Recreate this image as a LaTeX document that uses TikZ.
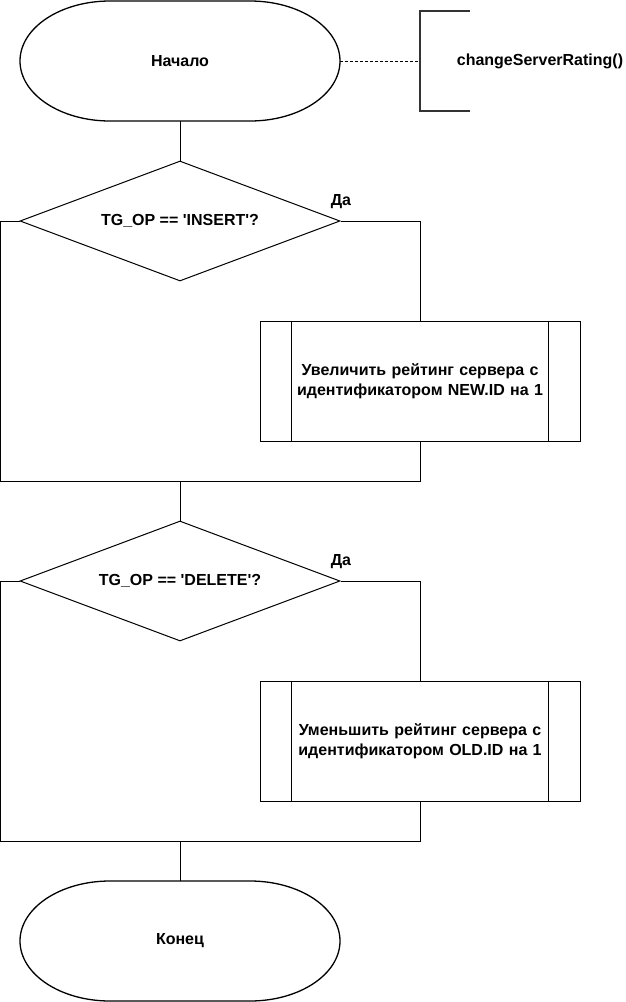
\documentclass[tikz,border=0pt]{standalone}
\usepackage{fontspec}
\setmainfont{Liberation Sans}
\usetikzlibrary{shapes.geometric}
\begin{document}
\begin{tikzpicture}[x=1pt,y=-1pt,
  every node/.style={font=\fontsize{16}{20}\selectfont\bfseries, inner sep=0pt},
  line/.style={draw=black, line width=1pt},
  termline/.style={draw=black, line width=1.3pt},
  term/.style={minimum width=320pt, minimum height=120pt},
  decision/.style={diamond, aspect=2.667, draw=black, line width=1pt, minimum width=320pt, minimum height=120pt, align=center},
  procbox/.style={rectangle, draw=black, line width=1pt, minimum width=320pt, minimum height=120pt, align=center},
  lbl/.style={font=\fontsize{16}{20}\selectfont\bfseries}
]
\useasboundingbox (0,0) rectangle (625,1002);
\fill[white] (0,0) rectangle (625,1002);

% start terminal
\draw[termline] (110,1) -- (250,1) arc[start angle=-90, end angle=90, x radius=90, y radius=60] -- (110,121) arc[start angle=90, end angle=270, x radius=90, y radius=60] -- cycle;
\node[term] (start) at (180,61) {Начало};

% annotation
\node (ann) at (540,61) {changeServerRating()};
\coordinate (br) at (420,61);
\draw[draw=black!80, line width=1.6pt] (470,11) -- (420,11) -- (420,111) -- (470,111);
\draw[line, dash pattern=on 3pt off 2pt] (start.east) -- (br);

% decision 1
\node[decision] (d1) at (180,221) {TG\_OP == \textquotesingle INSERT\textquotesingle?};
\draw[line] (start.south) -- (d1.north);
\node[lbl, anchor=center] (yes1) at (341,202) {Да};

% process 1
\node[procbox, text width=250pt] (p1) at (420,381) {Увеличить рейтинг сервера с\\идентификатором NEW.ID на 1};
\draw[line] ([xshift=32pt]p1.north west) -- ([xshift=32pt]p1.south west);
\draw[line] ([xshift=-32pt]p1.north east) -- ([xshift=-32pt]p1.south east);

\coordinate (m1) at (180,481);
\draw[line] (d1.east) -| (p1.north);
\draw[line] (p1.south) |- (m1);
\draw[line] (d1.west) -- (0.5,221) |- (m1);

% decision 2
\node[decision] (d2) at (180,581) {TG\_OP == \textquotesingle DELETE\textquotesingle?};
\draw[line] (m1) -- (d2.north);
\node[lbl, anchor=center] (yes2) at (341,562) {Да};

% process 2
\node[procbox, text width=250pt] (p2) at (420,741) {Уменьшить рейтинг сервера с\\идентификатором OLD.ID на 1};
\draw[line] ([xshift=32pt]p2.north west) -- ([xshift=32pt]p2.south west);
\draw[line] ([xshift=-32pt]p2.north east) -- ([xshift=-32pt]p2.south east);

\coordinate (m2) at (180,841);
\draw[line] (d2.east) -| (p2.north);
\draw[line] (p2.south) |- (m2);
\draw[line] (d2.west) -- (0.5,581) |- (m2);

% end terminal
\draw[termline] (110,881) -- (250,881) arc[start angle=-90, end angle=90, x radius=90, y radius=60] -- (110,1001) arc[start angle=90, end angle=270, x radius=90, y radius=60] -- cycle;
\node[term] (end) at (180,941) {Конец};
\draw[line] (m2) -- (end.north);
\end{tikzpicture}
\end{document}
